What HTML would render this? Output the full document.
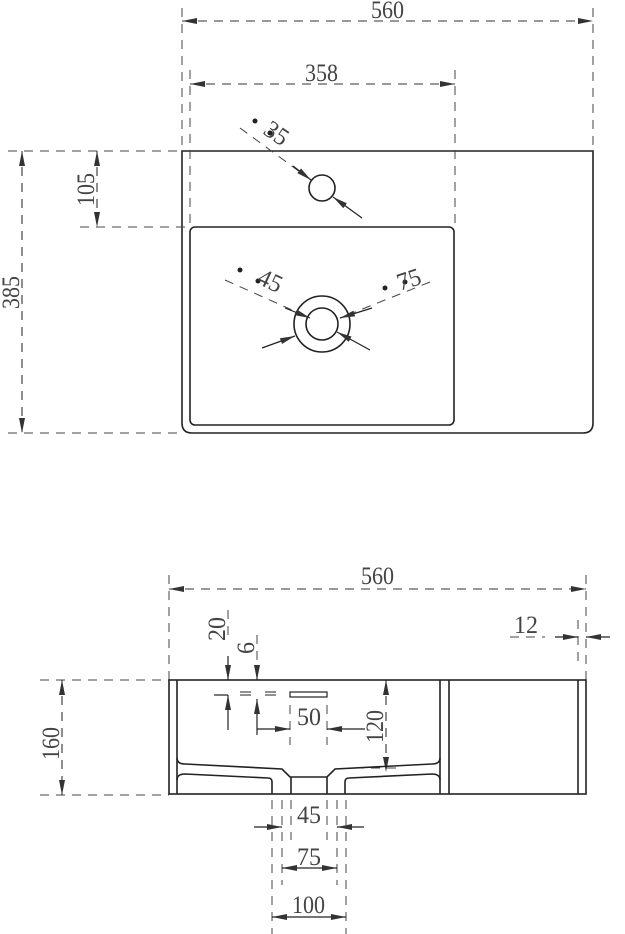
<!DOCTYPE html>
<html><head><style>
html,body{margin:0;padding:0;background:#fff;}
svg{display:block;}
text{font-family:"Liberation Serif",serif;fill:#444;font-size:25px;}
</style></head><body>
<svg width="625" height="934" viewBox="0 0 625 934" xmlns="http://www.w3.org/2000/svg">
<defs>
<marker id="a" viewBox="0 0 10 4" refX="10" refY="2" markerWidth="15" markerHeight="6" orient="auto-start-reverse" markerUnits="userSpaceOnUse"><path d="M0,0 L10,2 L0,4z" fill="#333"/></marker>
</defs>
<g stroke="#222" fill="none" stroke-width="1.6">
<path d="M182,151 H593 V423 Q593,433 583,433 H192 Q182,433 182,423 Z"/>
<rect x="190" y="227" width="264" height="198" rx="5"/>
<circle cx="322" cy="188" r="13"/>
<circle cx="322" cy="324" r="28"/>
<circle cx="322" cy="324" r="16"/>
</g>
<g stroke="#444" fill="none" stroke-width="1" stroke-dasharray="9,7">
<line x1="182" y1="8" x2="182" y2="151"/>
<line x1="593" y1="8" x2="593" y2="151"/>
<line x1="190" y1="70" x2="190" y2="227"/>
<line x1="455" y1="70" x2="455" y2="227"/>
<line x1="8" y1="151" x2="182" y2="151"/>
<line x1="8" y1="433" x2="182" y2="433"/>
<line x1="80" y1="227" x2="190" y2="227"/>
<line x1="240" y1="128" x2="300" y2="172"/>
<line x1="225" y1="280" x2="310" y2="318"/>
<line x1="430" y1="282" x2="340" y2="318"/>
<line x1="169" y1="575" x2="169" y2="680"/>
<line x1="586" y1="575" x2="586" y2="680"/>
<line x1="578" y1="620" x2="578" y2="665"/>
<line x1="40" y1="680" x2="169" y2="680"/>
<line x1="40" y1="795" x2="169" y2="795"/>
<line x1="228" y1="610" x2="228" y2="640"/>
<line x1="257" y1="635" x2="257" y2="660"/>
<line x1="290" y1="705" x2="290" y2="745"/>
<line x1="327" y1="705" x2="327" y2="745"/>
<line x1="355" y1="768" x2="400" y2="768"/>
<line x1="272" y1="800" x2="272" y2="934"/>
<line x1="282" y1="800" x2="282" y2="885"/>
<line x1="291" y1="800" x2="291" y2="840"/>
<line x1="327" y1="800" x2="327" y2="840"/>
<line x1="337" y1="800" x2="337" y2="885"/>
<line x1="346" y1="800" x2="346" y2="934"/>
<line x1="510" y1="637" x2="545" y2="637"/>
</g>
<g stroke="#333" stroke-width="1.1" fill="none" stroke-dasharray="9,7">
<line x1="182" y1="21" x2="593" y2="21" marker-start="url(#a)" marker-end="url(#a)"/>
<line x1="190" y1="84" x2="455" y2="84" marker-start="url(#a)" marker-end="url(#a)"/>
<line x1="22" y1="151" x2="22" y2="433" marker-start="url(#a)" marker-end="url(#a)"/>
<line x1="97" y1="151" x2="97" y2="227" marker-start="url(#a)" marker-end="url(#a)"/>
<line x1="169" y1="589" x2="586" y2="589" marker-start="url(#a)" marker-end="url(#a)"/>
<line x1="62" y1="680" x2="62" y2="795" marker-start="url(#a)" marker-end="url(#a)"/>
<line x1="386" y1="680" x2="386" y2="772" marker-start="url(#a)" marker-end="url(#a)"/>
</g>
<g stroke="#222" stroke-width="1.2" fill="none">
<line x1="293" y1="166" x2="311" y2="180" marker-end="url(#a)"/>
<line x1="362" y1="218" x2="333" y2="197" marker-end="url(#a)"/>
<line x1="285" y1="308" x2="310" y2="318" marker-end="url(#a)"/>
<line x1="370" y1="350" x2="337" y2="332" marker-end="url(#a)"/>
<line x1="372" y1="308" x2="340" y2="318" marker-end="url(#a)"/>
<line x1="262" y1="348" x2="295" y2="336" marker-end="url(#a)"/>
<line x1="555" y1="637" x2="578" y2="637" marker-end="url(#a)"/>
<line x1="610" y1="637" x2="586" y2="637" marker-end="url(#a)"/>
<line x1="228" y1="656" x2="228" y2="680" marker-end="url(#a)"/>
<line x1="228" y1="730" x2="228" y2="695" marker-end="url(#a)"/>
<line x1="214" y1="695" x2="228" y2="695"/>
<line x1="257" y1="665" x2="257" y2="680" marker-end="url(#a)"/>
<line x1="257" y1="735" x2="257" y2="699" marker-end="url(#a)"/>
<line x1="257" y1="729" x2="290" y2="729" marker-end="url(#a)"/>
<line x1="365" y1="729" x2="327" y2="729" marker-end="url(#a)"/>
<line x1="254" y1="827" x2="282" y2="827" marker-end="url(#a)"/>
<line x1="364" y1="827" x2="337" y2="827" marker-end="url(#a)"/>
<line x1="282" y1="868" x2="337" y2="868" marker-start="url(#a)" marker-end="url(#a)"/>
<line x1="272" y1="917" x2="346" y2="917" marker-start="url(#a)" marker-end="url(#a)"/>
</g>
<g fill="#222">
<circle cx="255" cy="121" r="2.5"/><circle cx="270" cy="133" r="2.5"/>
<circle cx="240" cy="270" r="2.5"/><circle cx="258" cy="281" r="2.5"/>
<circle cx="385" cy="288" r="2.5"/><circle cx="405" cy="282" r="2.5"/>
</g>
<g stroke="#222" fill="none" stroke-width="1.6">
<rect x="169" y="680" width="417" height="114"/>
<line x1="177" y1="680" x2="177" y2="794"/>
<line x1="440" y1="680" x2="440" y2="794"/>
<line x1="449" y1="680" x2="449" y2="794"/>
<line x1="578" y1="680" x2="578" y2="794"/>
<path d="M177,758 Q177,764 185,764 L282,769 L290,777 H327 L335,769 L432,764 Q440,764 440,758"/>
<path d="M272,794 V782 Q272,778 268,778 L185,774 Q177,774 177,780"/>
<path d="M345,794 V782 Q345,778 349,778 L432,774 Q440,774 440,780"/>
<line x1="291" y1="777" x2="291" y2="794"/>
<line x1="327" y1="777" x2="327" y2="794"/>
<rect x="290" y="692" width="37" height="5" stroke-width="1.2"/>
</g>
<g stroke="#222" stroke-width="1">
<line x1="240" y1="692" x2="251" y2="692"/><line x1="240" y1="695" x2="251" y2="695"/>
<line x1="265" y1="692" x2="276" y2="692"/><line x1="265" y1="695" x2="276" y2="695"/>
</g>
<text x="371" y="18" textLength="33" lengthAdjust="spacingAndGlyphs">560</text>
<text x="305" y="81" textLength="33" lengthAdjust="spacingAndGlyphs">358</text>
<text transform="translate(19,309) rotate(-90)" textLength="33" lengthAdjust="spacingAndGlyphs">385</text>
<text transform="translate(94,206) rotate(-90)" textLength="33" lengthAdjust="spacingAndGlyphs">105</text>
<text transform="translate(262,133) rotate(35)" textLength="24" lengthAdjust="spacingAndGlyphs">35</text>
<text transform="translate(256,283) rotate(25)" textLength="24" lengthAdjust="spacingAndGlyphs">45</text>
<text transform="translate(400,291) rotate(-18)" textLength="24" lengthAdjust="spacingAndGlyphs">75</text>
<text x="361" y="584" textLength="33" lengthAdjust="spacingAndGlyphs">560</text>
<text x="514" y="633" textLength="24" lengthAdjust="spacingAndGlyphs">12</text>
<text transform="translate(59,760) rotate(-90)" textLength="33" lengthAdjust="spacingAndGlyphs">160</text>
<text transform="translate(225,641) rotate(-90)" textLength="24" lengthAdjust="spacingAndGlyphs">20</text>
<text transform="translate(254,654) rotate(-90)" textLength="12" lengthAdjust="spacingAndGlyphs">6</text>
<text x="297" y="725" textLength="24" lengthAdjust="spacingAndGlyphs">50</text>
<text transform="translate(383,743) rotate(-90)" textLength="33" lengthAdjust="spacingAndGlyphs">120</text>
<text x="297" y="823" textLength="24" lengthAdjust="spacingAndGlyphs">45</text>
<text x="297" y="865" textLength="24" lengthAdjust="spacingAndGlyphs">75</text>
<text x="292" y="913" textLength="33" lengthAdjust="spacingAndGlyphs">100</text>
</svg>
</body></html>
